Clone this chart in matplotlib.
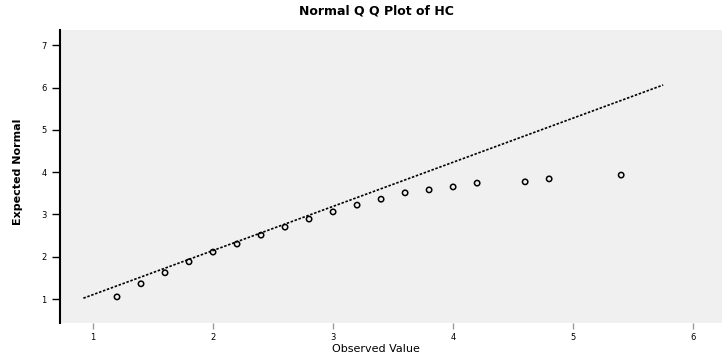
import matplotlib
matplotlib.use("Agg")
import matplotlib.pyplot as plt

# ----------------------------
# Data
# ----------------------------

observed = [1.2, 1.4, 1.6, 1.8, 2.0, 2.2, 2.4, 2.6, 2.8, 3.0,
            3.2, 3.4, 3.6, 3.8, 4.0, 4.2, 4.6, 4.8, 5.4]
expected = [1.05, 1.36, 1.62, 1.88, 2.11, 2.30, 2.51, 2.70, 2.89, 3.06,
            3.22, 3.36, 3.51, 3.58, 3.65, 3.74, 3.77, 3.84, 3.93]

# reference line (normal fit)
line_x = [0.92, 5.75]
line_y = [1.02, 6.06]

x_ticks = [1, 2, 3, 4, 5, 6]
y_ticks = [1, 2, 3, 4, 5, 6, 7]

# ----------------------------
# Plot
# ----------------------------

fig = plt.figure(figsize=(7.26, 3.56), dpi=100)
ax = fig.add_axes([60 / 726, 1 - 323 / 356, 662 / 726, 293 / 356])
ax.set_facecolor("#f0f0f0")

ax.plot(line_x, line_y, color="black", linestyle=(0, (1.5, 1)), linewidth=1.2)
ax.scatter(observed, expected, s=15, facecolors="none", edgecolors="black",
           linewidths=1.1, zorder=3)

ax.set_xlim(0.725, 6.24)
ax.set_ylim(0.433, 7.36)

ax.set_xticks(x_ticks)
ax.set_yticks(y_ticks)
ax.tick_params(axis="both", labelsize=6, length=6, width=1, direction="out")
ax.tick_params(axis="x", length=4, color="#999999")

for side in ["top", "right", "bottom"]:
    ax.spines[side].set_visible(False)
ax.spines["left"].set_linewidth(1.5)

# title and x label centred as in the reference, not on the axes
fig.text(376 / 726, 1 - 11 / 356, "Normal Q Q Plot of HC", fontsize=9,
         fontweight="bold", ha="center", va="center")
fig.text(376 / 726, 1 - 349 / 356, "Observed Value", fontsize=8,
         ha="center", va="center")
fig.text(18 / 726, 1 - 172 / 356, "Expected Normal", fontsize=8,
         fontweight="bold", rotation=90, ha="center", va="center")

fig.savefig("out.png", dpi=100)
